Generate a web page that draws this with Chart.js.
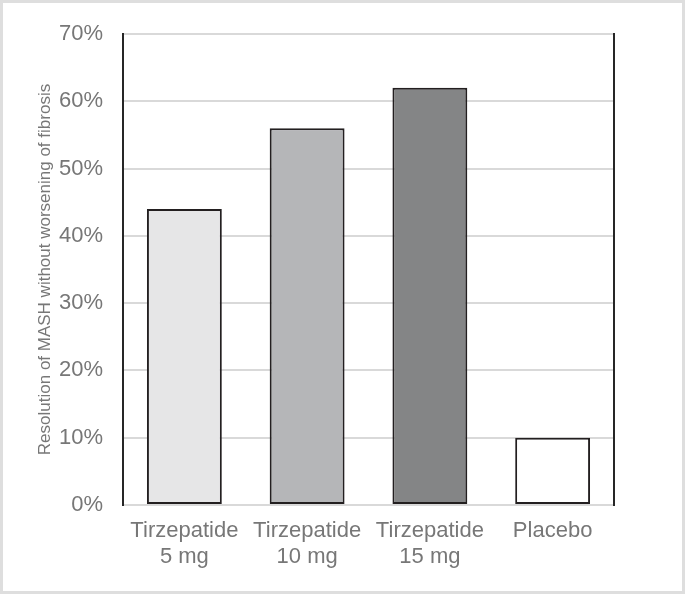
<!DOCTYPE html>
<html>
<head>
<meta charset="utf-8">
<script src="https://cdn.jsdelivr.net/npm/chart.js@4/dist/chart.umd.min.js"></script>
<style>
  html, body { margin: 0; padding: 0; background: #ffffff; }
  #wrap { width: 685px; height: 594px; position: relative; }
  canvas { display: block; }
</style>
</head>
<body>
<div id="wrap"><canvas id="c" width="685" height="594"></canvas></div>
<script>
const categories = [['Tirzepatide', '5 mg'], ['Tirzepatide', '10 mg'], ['Tirzepatide', '15 mg'], ['Placebo']];
const values = [44, 56, 62, 10];
const barColors = ['#e6e6e7', '#b5b6b8', '#848586', '#ffffff'];
const yTitle = 'Resolution of MASH without worsening of fibrosis';
const yMin = 0, yMax = 70, yStep = 10;

const frame = {
  id: 'frame',
  afterDraw(chart) {
    const ctx = chart.ctx;
    ctx.save();
    ctx.strokeStyle = '#dedede';
    ctx.lineWidth = 3;
    ctx.strokeRect(1.5, 1.5, chart.width - 3, chart.height - 3);
    ctx.restore();
  }
};

new Chart(document.getElementById('c'), {
  type: 'bar',
  data: {
    labels: categories,
    datasets: [{
      data: values,
      backgroundColor: barColors,
      borderColor: '#231f20',
      borderWidth: 2,
      borderSkipped: false,
      categoryPercentage: 1,
      barPercentage: 0.61
    }]
  },
  options: {
    responsive: false,
    animation: false,
    devicePixelRatio: 1,
    layout: { padding: { left: 0, right: 71, top: 34, bottom: 0 } },
    plugins: { legend: { display: false }, tooltip: { enabled: false } },
    scales: {
      x: {
        grid: { display: false, drawTicks: false },
        border: { display: false },
        ticks: {
          color: '#777777',
          font: { family: "Arial, 'Liberation Sans', sans-serif", size: 22, lineHeight: 1.18 },
          padding: 13,
          maxRotation: 0,
          autoSkip: false
        },
        afterFit(s) { s.height = 89; }
      },
      y: {
        min: yMin, max: yMax,
        grid: { color: '#d9d9d9', lineWidth: 2, drawTicks: false },
        border: { display: true, color: '#262626', width: 2 },
        ticks: {
          stepSize: yStep,
          color: '#777777',
          padding: 20,
          font: { family: "Arial, 'Liberation Sans', sans-serif", size: 22 },
          callback: v => v + '%'
        },
        title: {
          display: true,
          text: yTitle,
          color: '#777777',
          font: { family: "Arial, 'Liberation Sans', sans-serif", size: 17, lineHeight: 1.2 },
          padding: { top: 35, bottom: 0 }
        },
        afterFit(s) { s.width = 123; }
      },
      y2: {
        position: 'right',
        min: yMin, max: yMax,
        grid: { display: false, drawTicks: false },
        border: { display: true, color: '#262626', width: 2 },
        ticks: { display: false },
        afterFit(s) { s.width = 0; }
      }
    }
  },
  plugins: [frame]
});
</script>
</body>
</html>
